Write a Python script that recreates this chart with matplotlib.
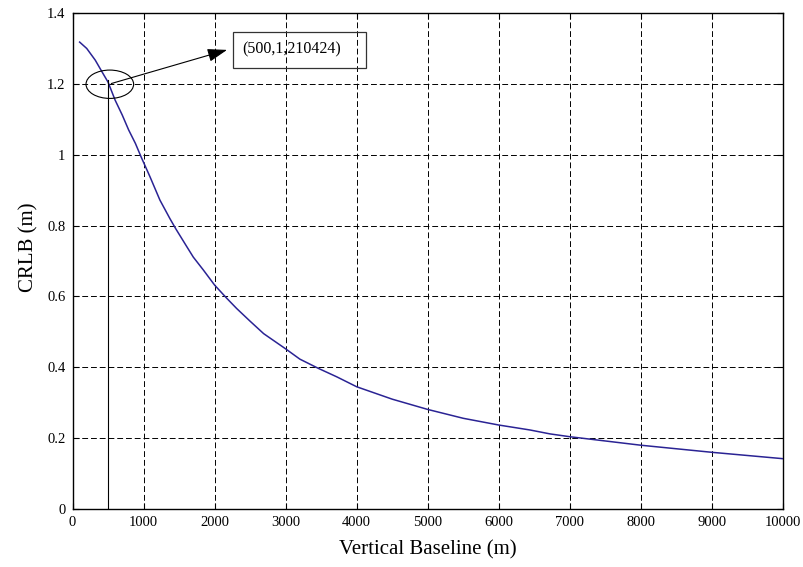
import numpy as np
import matplotlib
matplotlib.use('Agg')
import matplotlib.pyplot as plt
from matplotlib.patches import Ellipse, Rectangle

plt.rcParams['font.family'] = ['Liberation Serif', 'DejaVu Serif']

# CRLB vs vertical baseline
baseline = [100, 200, 320, 415, 500, 600, 700, 790, 885, 965, 1090, 1230,
            1370, 1450, 1610, 1700, 1840, 2000, 2170, 2310, 2500, 2690, 3000,
            3200, 3460, 3720, 4000, 4500, 5000, 5500, 6000, 6440, 6720, 7000,
            8000, 9000, 10000]
crlb = [1.318, 1.300, 1.267, 1.234, 1.205, 1.154, 1.112, 1.070, 1.032, 0.994,
        0.938, 0.872, 0.820, 0.792, 0.740, 0.711, 0.675, 0.632, 0.595, 0.566,
        0.530, 0.495, 0.452, 0.423, 0.397, 0.373, 0.345, 0.310, 0.281, 0.256,
        0.237, 0.223, 0.212, 0.204, 0.180, 0.160, 0.142]

mark_x, mark_y = 500, 1.210424
label = '(500,1,210424)'

xticks = np.arange(0, 10001, 1000)
yticks = [0, 0.2, 0.4, 0.6, 0.8, 1, 1.2, 1.4]
ytick_labels = ['0', '0.2', '0.4', '0.6', '0.8', '1', '1.2', '1.4']

fig = plt.figure(figsize=(8.04, 5.67), dpi=100)
ax = fig.add_axes([0.0902, 0.1023, 0.8837, 0.8747])

ax.plot(baseline, crlb, color='#2a2394', lw=1.1, zorder=3)

# marker line + ellipse + arrow + label box
ax.plot([mark_x, mark_x], [0, mark_y], color='black', lw=0.8, zorder=3)
ax.add_patch(Ellipse((525, 1.199), 670, 0.080, fill=False, edgecolor='black',
                     lw=0.8, zorder=4))
ax.annotate('', xy=(2175, 1.296), xytext=(546, 1.201),
            arrowprops=dict(arrowstyle='-|>,head_length=1.2,head_width=0.4',
                            color='black', lw=0.8, shrinkA=0, shrinkB=0),
            zorder=4)
ax.add_patch(Rectangle((2259, 1.245), 1872, 0.101, fill=False,
                       edgecolor='#333333', lw=0.9, zorder=4))
ax.text(2386, 1.297, label, fontsize=11.5, va='center', ha='left', zorder=4)

ax.set_xlim(0, 10000)
ax.set_ylim(0, 1.4)
ax.set_xticks(xticks)
ax.set_xticklabels([str(v) for v in xticks])
ax.set_yticks(yticks)
ax.set_yticklabels(ytick_labels)
ax.tick_params(direction='in', top=True, right=True, labelsize=10.5, length=4,
               width=0.8, pad=5)
ax.grid(True, color='black', linestyle=(0, (6, 3)), linewidth=0.7)
for s in ax.spines.values():
    s.set_linewidth(1.0)

ax.set_xlabel('Vertical Baseline (m)', fontsize=15, labelpad=8)
ax.set_ylabel('CRLB (m)', fontsize=15)
ax.yaxis.set_label_coords(-0.048, 0.527)

fig.savefig('out.png', dpi=100)
